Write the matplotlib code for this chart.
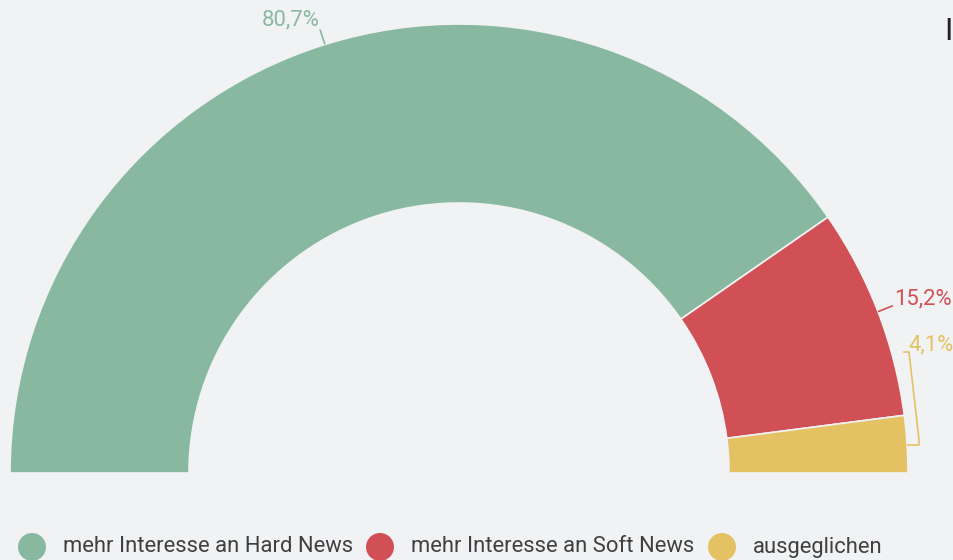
import numpy as np
import matplotlib
matplotlib.use("Agg")
import matplotlib.pyplot as plt
from matplotlib.patches import Circle

categories = ["mehr Interesse an Hard News", "mehr Interesse an Soft News", "ausgeglichen"]
values = [80.7, 15.2, 4.1]
labels = ["80,7%", "15,2%", "4,1%"]
colors = ["#88b9a0", "#d05055", "#e4c163"]

BG = "#f1f2f4"
plt.rcParams['font.family'] = ['Roboto', 'DejaVu Sans']

W, H = 954, 560
fig = plt.figure(figsize=(W / 100, H / 100), dpi=100, facecolor=BG)
ax = fig.add_axes([0, 0, 1, 1])
ax.set_facecolor(BG)

cx, cy = 459, H - 473
R, width = 449, 179

total = sum(values)
wedges, _ = ax.pie(values + [total], colors=colors + ["none"], startangle=180,
                   counterclock=False, radius=R, center=(cx, cy), frame=True,
                   wedgeprops=dict(width=width, edgecolor=BG, linewidth=1.2))
wedges[-1].set_visible(False)
ax.set_xlim(0, W)
ax.set_ylim(0, H)
ax.set_aspect('equal')
ax.axis('off')

# angles
bounds = 180 - np.cumsum([0] + values) / total * 180
mids = (bounds[:-1] + bounds[1:]) / 2

def pt(r, ang):
    a = np.deg2rad(ang)
    return cx + r * np.cos(a), cy + r * np.sin(a)

fs = 15.8
# label 0
x0, y0 = pt(R, mids[0])
ax.plot([x0, x0 - 5], [y0, y0 + 15], color=colors[0], lw=1.2, solid_capstyle='butt')
ax.text(x0 - 5, y0 + 14, labels[0], color=colors[0], fontsize=fs, ha='right', va='bottom')

# label 1
x1, y1 = pt(R, mids[1])
ax.plot([x1, x1 + 15], [y1, y1 + 6], color=colors[1], lw=1.2, solid_capstyle='butt')
ax.text(x1 + 16, y1 + 13, labels[1], color=colors[1], fontsize=fs, ha='left', va='center')

# label 2 with bracket
bx = [904, 909, 919, 919, 908]
by = [H - 352, H - 352, H - 440, H - 445, H - 445]
ax.plot(bx, by, color=colors[2], lw=1.2)
ax.text(908, H - 345, labels[2], color=colors[2], fontsize=fs, ha='left', va='center')

# cut-off title letter at top right
ax.text(944, H - 31, "I", color="#222222", fontsize=22, ha='left', va='center')

# legend
leg_x = [32, 380, 722]
leg_y = H - 547
for xx, c, t in zip(leg_x, colors, categories):
    ax.add_patch(Circle((xx, leg_y), 14, color=c, lw=0))
    ax.text(xx + 31, leg_y, t, color="#404040", fontsize=15.8, ha='left', va='center')

fig.savefig("out.png", dpi=100, facecolor=BG)
